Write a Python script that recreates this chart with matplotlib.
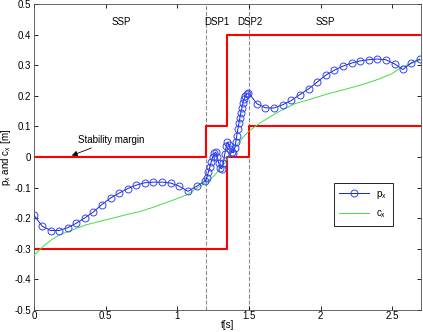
import matplotlib
matplotlib.use("Agg")
import matplotlib.pyplot as plt

# ---- data ----
px_t = [0.0, 0.059, 0.117, 0.176, 0.235, 0.297, 0.355, 0.414, 0.473, 0.535,
        0.594, 0.655, 0.713, 0.774, 0.834, 0.895, 0.954, 1.014, 1.075, 1.137,
        1.196, 1.206, 1.217, 1.227, 1.238, 1.248, 1.259, 1.269, 1.280, 1.290,
        1.301, 1.311, 1.322, 1.332, 1.343, 1.350, 1.360, 1.371, 1.381, 1.392,
        1.402, 1.409, 1.416, 1.423, 1.430, 1.437, 1.444, 1.451, 1.458, 1.465,
        1.476, 1.486, 1.497, 1.557, 1.615, 1.674, 1.737, 1.797, 1.855, 1.918,
        1.977, 2.035, 2.093, 2.156, 2.217, 2.275, 2.338, 2.396, 2.455, 2.517,
        2.575, 2.634, 2.692]
px_v = [-0.19, -0.226, -0.24, -0.24, -0.231, -0.216, -0.199, -0.18, -0.156, -0.134,
        -0.118, -0.103, -0.092, -0.084, -0.082, -0.082, -0.085, -0.095, -0.112, -0.095,
        -0.078, -0.068, -0.05, -0.033, -0.015, 0.0, 0.012, 0.016, 0.0, -0.02,
        -0.035, -0.038, -0.02, 0.01, 0.035, 0.049, 0.04, 0.025, 0.017, 0.014,
        0.03, 0.05, 0.07, 0.09, 0.11, 0.128, 0.145, 0.16, 0.175, 0.188,
        0.198, 0.207, 0.21, 0.174, 0.161, 0.16, 0.171, 0.185, 0.204, 0.223,
        0.245, 0.267, 0.283, 0.297, 0.307, 0.314, 0.318, 0.32, 0.318, 0.304,
        0.286, 0.308, 0.32]

cx_t = [0.0, 0.065, 0.124, 0.18, 0.275, 0.368, 0.462, 0.555, 0.648, 0.741,
        0.834, 0.928, 0.998, 1.068, 1.138, 1.196, 1.26, 1.33, 1.40, 1.47,
        1.506, 1.587, 1.704, 1.82, 1.937, 2.054, 2.17, 2.287, 2.403, 2.497,
        2.566, 2.63, 2.70]
cx_v = [-0.321, -0.292, -0.27, -0.254, -0.237, -0.221, -0.21, -0.199, -0.188, -0.178,
        -0.164, -0.148, -0.136, -0.123, -0.101, -0.085, -0.06, -0.02, 0.03, 0.07,
        0.087, 0.114, 0.147, 0.174, 0.19, 0.207, 0.221, 0.236, 0.254, 0.272,
        0.294, 0.305, 0.318]

upper_t = [0.0, 1.2, 1.2, 1.35, 1.35, 2.7]
upper_v = [0.0, 0.0, 0.1, 0.1, 0.4, 0.4]
lower_t = [0.0, 1.35, 1.35, 1.5, 1.5, 2.7]
lower_v = [-0.3, -0.3, 0.0, 0.0, 0.1, 0.1]

phase_bounds = [1.2, 1.5]
phase_labels = ["SSP", "DSP1", "DSP2", "SSP"]
phase_label_t = [0.61, 1.28, 1.51, 2.03]

xticks = [0, 0.5, 1, 1.5, 2, 2.5]
xticklabels = ["0", "0.5", "1", "1.5", "2", "2.5"]
yticks = [-0.5, -0.4, -0.3, -0.2, -0.1, 0, 0.1, 0.2, 0.3, 0.4, 0.5]
yticklabels = ["-0.5", "-0.4", "-0.3", "-0.2", "-0.1", "0", "0.1", "0.2", "0.3", "0.4", "0.5"]

# ---- figure ----
plt.rcParams['font.family'] = ['Liberation Sans', 'DejaVu Sans']
plt.rcParams['mathtext.fontset'] = 'custom'
plt.rcParams['mathtext.rm'] = 'Liberation Sans'
plt.rcParams['mathtext.it'] = 'Liberation Sans'

fig = plt.figure(figsize=(4.23, 3.32), dpi=100)
ax = fig.add_axes([0.080, 0.066, 0.915, 0.922])

ax.plot(upper_t, upper_v, color='red', lw=1.5, zorder=2)
ax.plot(lower_t, lower_v, color='red', lw=1.5, zorder=2)
for b in phase_bounds:
    ax.axvline(b, color='0.55', lw=0.8, ls='--', zorder=1)

ax.plot(cx_t, cx_v, color='#44dd44', lw=0.7, zorder=3, label='c$_x$')
ax.plot(px_t, px_v, color='#1a22cc', lw=0.7, marker='o', ms=5,
        mfc='none', mec='#3344ee', mew=0.7, zorder=4, label='p$_x$')

ax.set_xlim(0, 2.7)
ax.set_ylim(-0.5, 0.5)
ax.set_xticks(xticks)
ax.set_xticklabels(xticklabels)
ax.set_yticks(yticks)
ax.set_yticklabels(yticklabels)
ax.tick_params(direction='in', top=True, right=True, labelsize=7, length=3, width=0.6, pad=2)
ax.tick_params(axis='x', pad=1)
for s in ax.spines.values():
    s.set_linewidth(0.6)
    s.set_color('0.3')

for lab, t in zip(phase_labels, phase_label_t):
    ax.text(t, 0.44, lab, fontsize=7, ha='center', va='center')

ax.annotate('Stability margin', xy=(0.265, 0.005), xytext=(0.31, 0.055),
            fontsize=7, ha='left', va='center',
            arrowprops=dict(arrowstyle='-|>', color='black', lw=0.6,
                            mutation_scale=8, shrinkA=0, shrinkB=0))

ax.set_xlabel('t[s]', fontsize=7)
ax.xaxis.label.set_va('center')
ax.xaxis.set_label_coords(0.5, -0.050)
ax.set_ylabel('p$_x$ and c$_x$ [m]', fontsize=7, labelpad=1)

h, l = ax.get_legend_handles_labels()
leg = ax.legend([h[1], h[0]], [l[1], l[0]], loc='upper left',
                bbox_to_anchor=(0.762, 0.431), fontsize=7, fancybox=False,
                edgecolor='black', framealpha=1, handlelength=3,
                borderpad=0.6, labelspacing=0.8)
leg.get_frame().set_linewidth(0.6)

fig.savefig('out.png', dpi=100)
